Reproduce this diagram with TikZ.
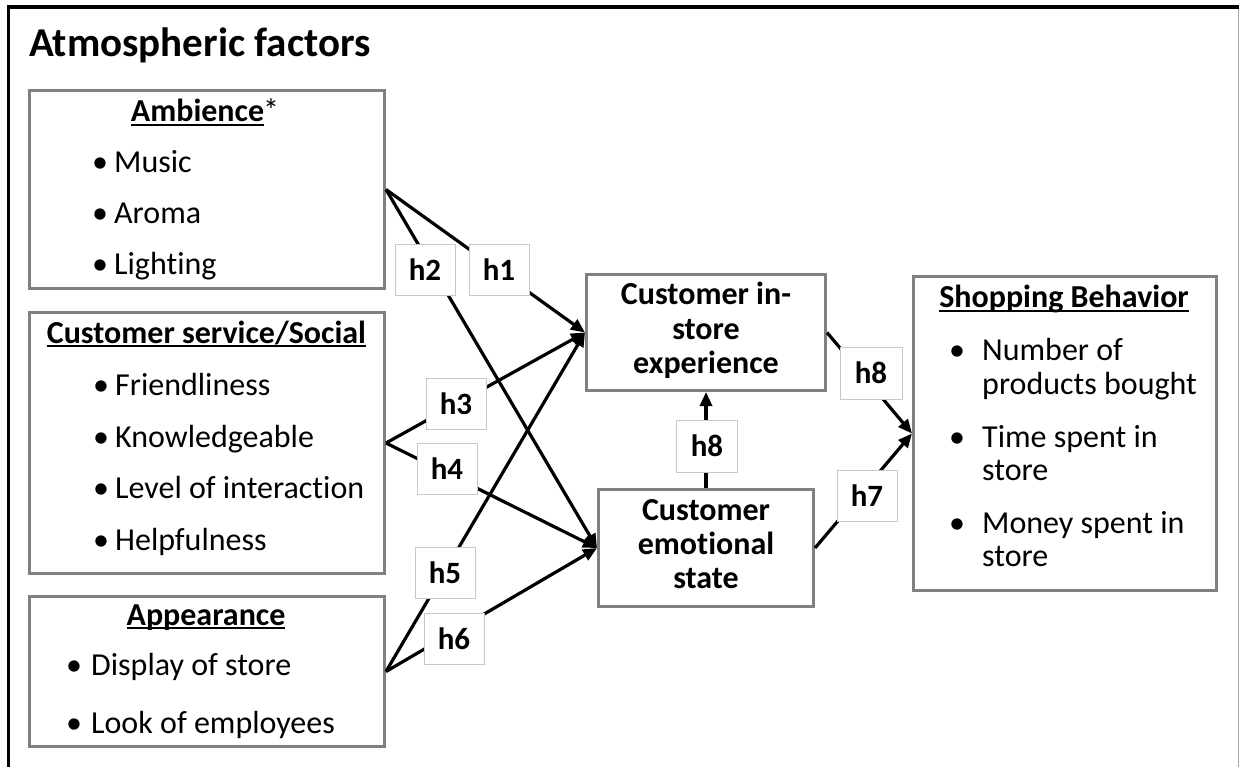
\documentclass[tikz,border=0pt]{standalone}
\usepackage{fontspec}
\setmainfont{Carlito}[Ligatures={NoCommon}]
\usetikzlibrary{arrows.meta}
\definecolor{boxgrey}{HTML}{808080}
\definecolor{lblgrey}{HTML}{C8C8C8}
\newlength\ulwd
\newcommand\myul[1]{\settowidth{\ulwd}{#1}\rlap{\rule[-4pt]{\ulwd}{2pt}}#1}
\newcommand\bul[1]{\makebox[#1][l]{•}}
\begin{document}
\begin{tikzpicture}[x=1pt,y=-1pt,
  bx/.style={draw=boxgrey, line width=3pt, inner sep=0pt, fill=white},
  lbl/.style={draw=lblgrey, line width=1pt, fill=white, minimum width=60pt, minimum height=51pt, inner sep=0pt, font=\fontsize{31}{31}\selectfont\bfseries},
  txt/.style={anchor=base west, inner sep=0pt, font=\fontsize{32}{34}\selectfont},
  hd/.style={anchor=base, inner sep=0pt, font=\fontsize{32}{34}\selectfont\bfseries},
  conn/.style={line width=3.2pt, -{Triangle[length=14pt,width=12pt]}},
]
\useasboundingbox (0,0) rectangle (1239,767);
\fill[white] (0,0) rectangle (1239,767);
% outer frame
\draw[line width=3.5pt] (8.5,767) -- (8.5,7) -- (1239,7);
\draw[line width=1pt, draw=black!35] (1238,9) -- (1238,767);

\node[anchor=base west, inner sep=0pt, font=\fontsize{41}{43}\selectfont\bfseries] (title) at (29,57) {Atmospheric factors};

% boxes
\node[bx, minimum width=355pt, minimum height=198pt] (amb) at (207,189.5) {};
\node[bx, minimum width=355pt, minimum height=261pt] (cs) at (207,443) {};
\node[bx, minimum width=355pt, minimum height=150pt] (app) at (207,671.5) {};
\node[bx, minimum width=239pt, minimum height=116pt] (ins) at (706,332.5) {};
\node[bx, minimum width=215pt, minimum height=117pt] (emo) at (706,548) {};
\node[bx, minimum width=303pt, minimum height=314pt] (shop) at (1065,433.5) {};

% Ambience
\node[hd] (ambh) at (205,122) {\myul{Ambience}\kern-1pt\textmd{*}};
\node[txt] (amb1) at (92,173) {\bul{22pt}Music};
\node[txt] (amb2) at (92,224) {\bul{22pt}Aroma};
\node[txt] (amb3) at (92,275) {\bul{22pt}Lighting};

% Customer service
\node[hd] (csh) at (206.5,343) {\myul{Customer service/Social}};
\node[txt] (cs1) at (93,395) {\bul{22pt}Friendliness};
\node[txt] (cs2) at (93,447) {\bul{22pt}Knowledgeable};
\node[txt] (cs3) at (93,498) {\bul{22pt}Level of interaction};
\node[txt] (cs4) at (93,550) {\bul{22pt}Helpfulness};

% Appearance
\node[hd] (apph) at (206,625) {\myul{Appearance}};
\node[txt] (app1) at (66,675) {\bul{25pt}Display of store};
\node[txt] (app2) at (66,733) {\bul{25pt}Look of employees};

% in-store
\node[hd] (ins1) at (706,305) {Customer in-};
\node[hd] (ins2) at (706,339) {store};
\node[hd] (ins3) at (706,373) {experience};

% emotional
\node[hd] (emo1) at (706,520) {Customer};
\node[hd] (emo2) at (706,554) {emotional};
\node[hd] (emo3) at (706,588) {state};

% shopping
\node[hd] (shoph) at (1064,308) {\myul{Shopping Behavior}};
\node[txt] (sh1) at (949,360) {\bul{33pt}Number of};
\node[txt] (sh1b) at (982,394) {products bought};
\node[txt] (sh2) at (949,447) {\bul{33pt}Time spent in};
\node[txt] (sh2b) at (982,480) {store};
\node[txt] (sh3) at (949,533) {\bul{33pt}Money spent in};
\node[txt] (sh3b) at (982,566) {store};

% connectors
\draw[conn] (amb.east) -- (ins.west);
\draw[conn] (amb.east) -- (emo.west);
\draw[conn] (cs.east) -- (ins.west);
\draw[conn] (cs.east) -- (emo.west);
\draw[conn] (app.east) -- (ins.west);
\draw[conn] (app.east) -- (emo.west);
\draw[conn] (emo.north) -- (ins.south);
\draw[conn] (ins.east) -- (shop.west);
\draw[conn] (emo.east) -- (shop.west);

% labels
\node[lbl] (h2) at (425,270) {h2};
\node[lbl] (h1) at (499,270) {h1};
\node[lbl] (h3) at (456,404) {h3};
\node[lbl] (h4) at (447,469) {h4};
\node[lbl] (h5) at (445,573) {h5};
\node[lbl] (h6) at (454,639) {h6};
\node[lbl, minimum width=61pt, minimum height=52pt] (h8a) at (707,446) {h8};
\node[lbl, minimum width=62pt, minimum height=52pt] (h8b) at (871,373) {h8};
\node[lbl] (h7) at (867,496) {h7};
\end{tikzpicture}
\end{document}
